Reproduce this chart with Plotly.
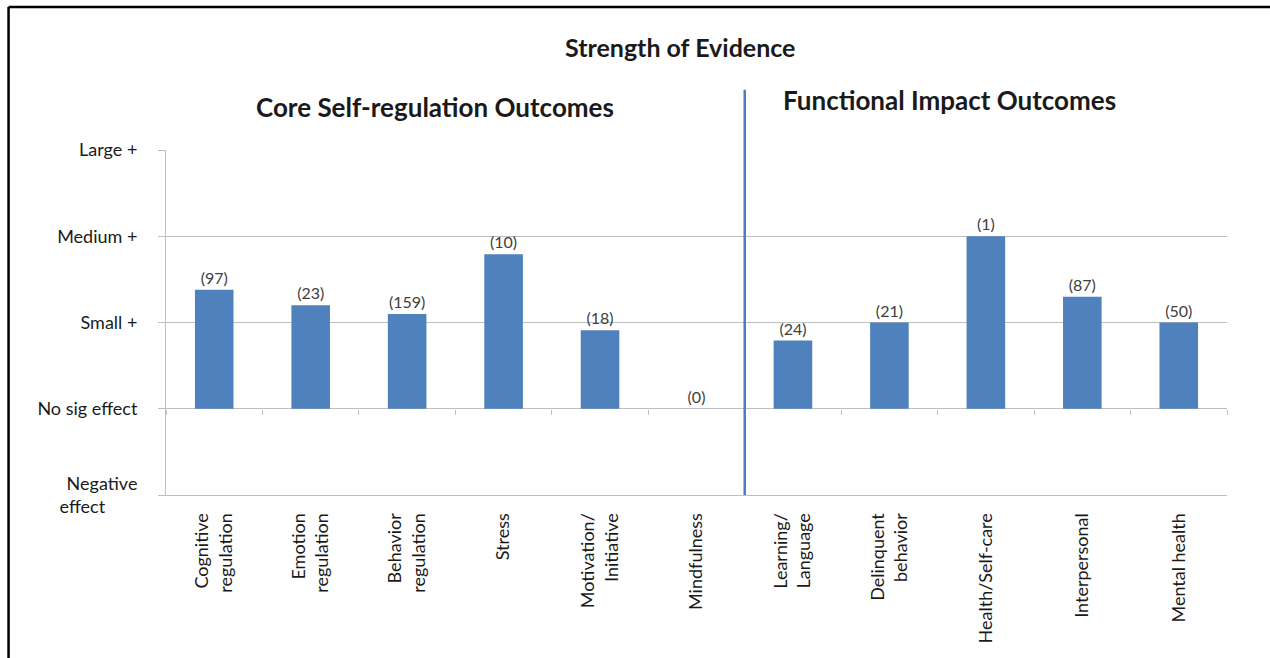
import plotly.graph_objects as go

# data
categories = [
    "Cognitive<br>regulation", "Emotion<br>regulation", "Behavior<br>regulation",
    "Stress", "Motivation/<br>Initiative", "Mindfulness",
    "Learning/<br>Language", "Delinquent<br>behavior", "Health/Self-care",
    "Interpersonal", "Mental health",
]
effect_size = [1.38, 1.20, 1.10, 1.79, 0.91, 0.0, 0.79, 1.0, 2.0, 1.30, 1.0]
n_studies = [97, 23, 159, 10, 18, 0, 24, 21, 1, 87, 50]

level_vals = [-1, 0, 1, 2, 3]
level_text = ["Negative<br>effect" + "&nbsp;" * 7, "No sig effect", "Small +", "Medium +", "Large +"]

FONT = "Lato"
BAR = "#4f81bd"
GRID = "#bfbfbf"
TXT = "#1a1a1a"

fig = go.Figure()

fig.add_trace(go.Bar(
    x=categories, y=effect_size,
    marker=dict(color=BAR, line=dict(width=0)),
    width=0.4,
    text=["(%d)" % n for n in n_studies],
    textposition="outside",
    textfont=dict(family=FONT, size=16, color="#404040"),
    cliponaxis=False,
    hoverinfo="skip",
))

# helper trace for the axis that crosses at "No sig effect"
fig.add_trace(go.Scatter(
    x=categories, y=[0] * len(categories), xaxis="x2",
    mode="markers", marker=dict(opacity=0), hoverinfo="skip",
    showlegend=False,
))

fig.update_layout(
    width=1270, height=658,
    margin=dict(l=166, r=43, t=150, b=163),
    paper_bgcolor="white", plot_bgcolor="white",
    showlegend=False,
    font=dict(family=FONT, size=18, color=TXT),
    xaxis=dict(
        type="category", categoryarray=categories, range=[-0.5, 10.5],
        showgrid=False, showline=True, linecolor=GRID, linewidth=1,
        ticks="", tickangle=-90, ticklabelstandoff=10,
        tickfont=dict(family=FONT, size=18, color=TXT),
    ),
    xaxis2=dict(
        type="category", categoryarray=categories, range=[-0.5, 10.5],
        overlaying="x", anchor="free", position=0.25,
        showgrid=False, showline=False, showticklabels=False,
        ticks="outside", tickson="boundaries", ticklen=5,
        tickcolor=GRID, tickwidth=1,
    ),
    yaxis=dict(
        range=[-1, 3], tickvals=level_vals, ticktext=level_text,
        showgrid=True, gridcolor=GRID, gridwidth=1, zeroline=False,
        showline=True, linecolor=GRID, linewidth=1,
        ticks="outside", ticklen=7, tickcolor=GRID,
        ticklabelstandoff=17,
        tickfont=dict(family=FONT, size=18, color=TXT),
    ),
    bargap=0.6,
)

# divider between the two outcome groups
fig.add_shape(type="line", xref="x", yref="paper", x0=5.5, x1=5.5,
              y0=0, y1=1.175, line=dict(color="#4a7ebb", width=2.5))

# outer frame (left and top edges)
fig.add_shape(type="line", xref="paper", yref="paper", x0=-0.1484, x1=-0.1484,
              y0=-0.48, y1=1.4145, line=dict(color="black", width=2.5))
fig.add_shape(type="line", xref="paper", yref="paper", x0=-0.1484, x1=1.05,
              y0=1.4145, y1=1.4145, line=dict(color="black", width=2.5))

heads = [
    ("<b>Strength of Evidence</b>", 0.484, 1.2986, 25),
    ("<b>Core Self-regulation Outcomes</b>", 0.2535, 1.1246, 26),
    ("<b>Functional Impact Outcomes</b>", 0.738, 1.145, 26),
]
for txt, hx, hy, sz in heads:
    fig.add_annotation(text=txt, xref="paper", yref="paper", x=hx, y=hy,
                       xanchor="center", yanchor="middle", showarrow=False,
                       font=dict(family=FONT, size=sz, color=TXT))

fig.write_html("out.html", config={"displayModeBar": False},
               post_script="document.body.style.margin='0';document.body.style.overflow='hidden';")
